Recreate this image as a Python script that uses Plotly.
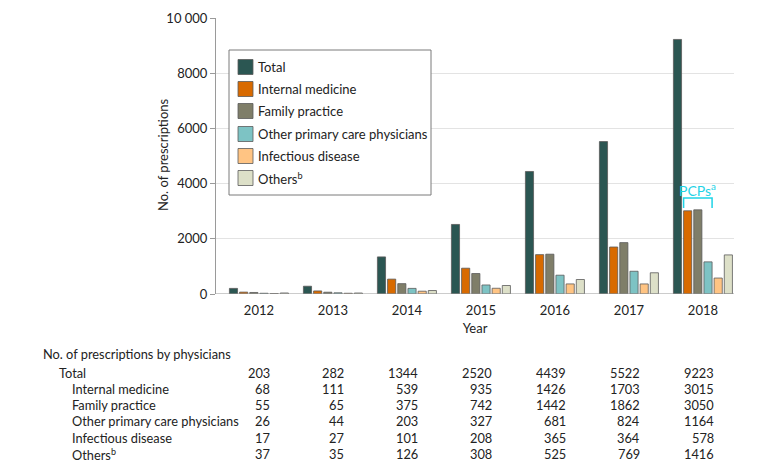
import plotly.graph_objects as go

years = ["2012", "2013", "2014", "2015", "2016", "2017", "2018"]
series_names = ["Total", "Internal medicine", "Family practice",
                "Other primary care physicians", "Infectious disease", "Others<sup>b</sup>"]
total = [203, 282, 1344, 2520, 4439, 5522, 9223]
internal_medicine = [68, 111, 539, 935, 1426, 1703, 3015]
family_practice = [55, 65, 375, 742, 1442, 1862, 3050]
other_pcp = [26, 44, 203, 327, 681, 824, 1164]
infectious_disease = [17, 27, 101, 208, 365, 364, 578]
others = [37, 35, 126, 308, 525, 769, 1416]
y_tick_vals = [0, 2000, 4000, 6000, 8000, 10000]
y_tick_text = ["0", "2000", "4000", "6000", "8000", "10 000"]

series_values = [total, internal_medicine, family_practice, other_pcp, infectious_disease, others]
colors = ["#2b5652", "#d86a00", "#7f7e69", "#7dc3c4", "#ffc483", "#dde0c8"]

FONT = "Lato"
OFF = 8  # page body margin
W, H = 780, 472
# plot area in screenshot coordinates
PX0, PX1, PY0, PY1 = 216, 734, 18, 294
L, R, T, B = PX0 - OFF, W - (PX1 - OFF), PY0 - OFF, H - (PY1 - OFF)
PW, PH = PX1 - PX0, PY1 - PY0

def px_x(p):
    return (p - PX0) / PW

def px_y(p):
    return (PY1 - p) / PH

xs = list(range(len(years)))
fig = go.Figure()
for name, vals, col in zip(series_names, series_values, colors):
    fig.add_trace(go.Bar(x=xs, y=vals, name=name, marker=dict(color=col, line=dict(color="#5a5a5a", width=0.8)),
                         showlegend=False))

fig.update_layout(
    width=W, height=H, margin=dict(l=L, r=R, t=T, b=B, autoexpand=False),
    plot_bgcolor="white", paper_bgcolor="white",
    barmode="group", bargap=0.175, bargroupgap=0.2,
    font=dict(family=FONT, size=13, color="#222"),
    xaxis=dict(range=[-0.58, 6.42], tickvals=xs, ticktext=years, showgrid=False, zeroline=False,
               showline=False, ticks="", tickfont=dict(size=13), automargin=False, ticklabelstandoff=7,
               title=dict(text="Year", font=dict(size=13), standoff=6)),
    yaxis=dict(range=[0, 10000], tickvals=y_tick_vals, ticktext=y_tick_text, showgrid=True,
               gridcolor="#e3e3e3", gridwidth=1, zeroline=False, showline=True, linecolor="#9a9a9a",
               ticks="outside", ticklen=5, tickcolor="#9a9a9a", tickfont=dict(size=13), automargin=False),
)
# y axis title
fig.add_annotation(xref="paper", yref="paper", x=px_x(163), y=px_y(155), text="No. of prescriptions",
                   textangle=-90, showarrow=False, xanchor="center", yanchor="middle", font=dict(size=13))
# baseline
fig.add_shape(type="line", xref="paper", yref="y", x0=0, x1=1, y0=0, y1=0, line=dict(color="#9a9a9a", width=1.2))

# legend (manual)
fig.add_shape(type="rect", xref="paper", yref="paper", x0=px_x(229), x1=px_x(431), y0=px_y(50), y1=px_y(195),
              line=dict(color="#7a7a7a", width=1), fillcolor="white")
row_y = [67, 89, 111, 134, 156, 178]
for name, col, ry in zip(series_names, colors, row_y):
    fig.add_shape(type="rect", xref="paper", yref="paper", x0=px_x(238), x1=px_x(253),
                  y0=px_y(ry - 7.5), y1=px_y(ry + 7.5), line=dict(color="#5a5a5a", width=0.8), fillcolor=col)
    fig.add_annotation(xref="paper", yref="paper", x=px_x(256), y=px_y(ry), text=name, showarrow=False,
                       xanchor="left", yanchor="middle", font=dict(size=13))

# PCPs bracket
slot = (1 - 0.175) / 6
x_left = 6 - 1.5 * slot - 0.055
x_right = 6 + 0.5 * slot + 0.055
cyan = "#1fd3e6"
fig.add_shape(type="path", xref="x", yref="y",
              path=f"M {x_left},3120 L {x_left},3480 L {x_right},3480 L {x_right},3120",
              line=dict(color=cyan, width=1.5))
fig.add_annotation(xref="x", yref="y", x=(x_left + x_right) / 2, y=3480, yshift=-3, text="PCPs<sup>a</sup>",
                   showarrow=False, yanchor="bottom", font=dict(size=14, color=cyan))

# table below
row_labels = ["Total", "Internal medicine", "Family practice", "Other primary care physicians",
              "Infectious disease", "Others<sup>b</sup>"]
table_y = [373, 389, 405, 421, 438, 454]
TF = 12.8
fig.add_annotation(xref="paper", yref="paper", x=px_x(41), y=px_y(354), text="No. of prescriptions by physicians",
                   showarrow=False, xanchor="left", yanchor="middle", font=dict(size=TF))
for i, (lab, vals, ty) in enumerate(zip(row_labels, series_values, table_y)):
    indent = 57 if i == 0 else 70
    fig.add_annotation(xref="paper", yref="paper", x=px_x(indent), y=px_y(ty), text=lab,
                       showarrow=False, xanchor="left", yanchor="middle", font=dict(size=TF))
    for j, v in enumerate(vals):
        fig.add_annotation(xref="x", yref="paper", x=j + 0.17, y=px_y(ty), text=str(v),
                           showarrow=False, xanchor="right", yanchor="middle", font=dict(size=TF))

fig.write_html("out.html")
